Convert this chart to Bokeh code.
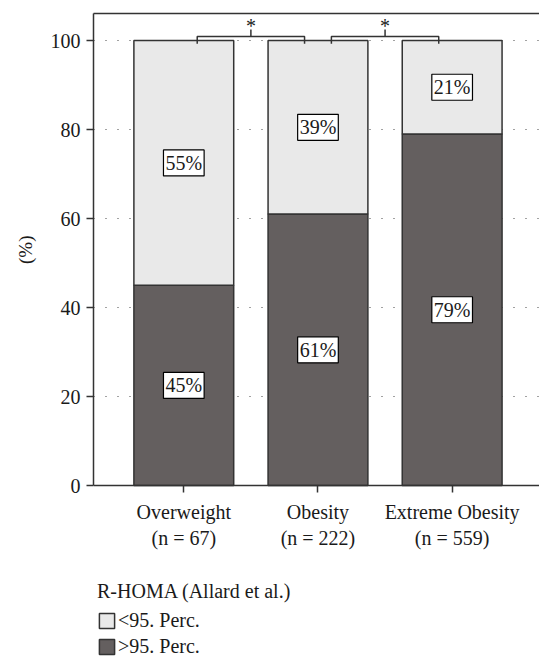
from bokeh.plotting import figure
from bokeh.models import FixedTicker, LinearAxis, Legend, LegendItem, Range1d, Title
from bokeh.embed import file_html
from bokeh.resources import INLINE
from bokeh.core.properties import value

# ---- data ----
categories = ["Overweight\n(n = 67)", "Obesity\n(n = 222)", "Extreme Obesity\n(n = 559)"]
above_95 = [45, 61, 79]
below_95 = [55, 39, 21]
above_labels = ["45%", "61%", "79%"]
below_labels = ["55%", "39%", "21%"]
y_ticks = [0, 20, 40, 60, 80, 100]
sig_pairs = [(0, 1), (1, 2)]
sig_marks = ["*", "*"]
legend_title = "R-HOMA (Allard et al.)"
series_names = ["<95. Perc.", ">95. Perc."]
y_axis_label = "(%)"

FONT = "Liberation Serif"
FS = "20px"
TXT = "#1a1a1a"
DARK = "#645f5f"
LIGHT = "#e9e9e9"
EDGE = "#333333"

x = list(range(len(categories)))
totals = [a + b for a, b in zip(above_95, below_95)]
mid_above = [a / 2 for a in above_95]
mid_below = [a + b / 2 for a, b in zip(above_95, below_95)]
y_top = 106.07

p = figure(width=539, height=661,
           x_range=Range1d(-0.673, 2.651), y_range=Range1d(-39.55, y_top),
           output_backend="svg", toolbar_location=None,
           min_border_left=92, min_border_right=0, min_border_top=13,
           min_border_bottom=0)
p.outline_line_color = None
p.background_fill_color = "white"
p.border_fill_color = "white"

# grid
p.xgrid.grid_line_color = None
p.ygrid.ticker = FixedTicker(ticks=y_ticks)
p.ygrid.grid_line_color = "#444444"
p.ygrid.grid_line_dash = "1 11"
p.ygrid.grid_line_width = 1.2

# bars
dark_r = p.vbar(x=x, bottom=0, top=above_95, width=0.744,
                fill_color=DARK, line_color=EDGE, line_width=1.5)
light_r = p.vbar(x=x, bottom=above_95, top=totals, width=0.744,
                 fill_color=LIGHT, line_color=EDGE, line_width=1.5)

# boxed labels
for ys, labs in ((mid_above, above_labels), (mid_below, below_labels)):
    p.text(x=x, y=ys, text=labs, text_font=value(FONT), text_font_size=FS,
           text_color=TXT, text_align="center", text_baseline="middle",
           background_fill_color="white", border_line_color="black",
           border_line_width=1.2, padding=2)

# significance brackets
bx, by, sx, sy = [], [], [], []
for (a, b) in sig_pairs:
    m = (a + b) / 2
    bx.append([a + 0.1, a + 0.1, b - 0.1, b - 0.1])
    by.append([99.3, 100.9, 100.9, 99.3])
    bx.append([m, m])
    by.append([100.9, 102.5])
    sx.append(m)
    sy.append(103.2)
p.multi_line(xs=bx, ys=by, line_color=EDGE, line_width=1.5)
p.text(x=sx, y=sy, text=sig_marks, text_font=value(FONT), text_font_size=FS,
       text_color=TXT, text_align="center", text_baseline="middle")

# axes
xa = p.xaxis[0]
xa.fixed_location = 0
xa.ticker = FixedTicker(ticks=x)
xa.major_label_overrides = {i: c for i, c in zip(x, categories)}
xa.minor_tick_line_color = None
xa.major_tick_in = 0
xa.major_tick_out = 7
xa.major_label_standoff = 8
xa.major_label_text_font = FONT
xa.major_label_text_font_size = FS
xa.major_label_text_color = TXT
xa.major_label_text_line_height = 1.2
xa.axis_line_color = EDGE
xa.axis_line_width = 1.5
xa.major_tick_line_color = EDGE
xa.major_tick_line_width = 1.5

ya = p.yaxis[0]
ya.bounds = (0, y_top)
ya.ticker = FixedTicker(ticks=y_ticks)
ya.minor_tick_line_color = None
ya.major_tick_in = 0
ya.major_tick_out = 7
ya.major_label_standoff = 6
ya.major_label_text_font = FONT
ya.major_label_text_font_size = FS
ya.major_label_text_color = TXT
ya.axis_line_color = EDGE
ya.axis_line_width = 1.5
ya.major_tick_line_color = EDGE
ya.major_tick_line_width = 1.5

# y-axis label as a side title so it can be centred on the 0-100 part
ylab = Title(text=y_axis_label, align="right", offset=222,
             text_font=FONT, text_font_size="19px", text_font_style="normal",
             text_color=TXT)
if "standoff" in Title.properties():
    ylab.standoff = 24
p.add_layout(ylab, "left")

top_axis = LinearAxis(ticker=FixedTicker(ticks=[]), major_tick_line_color=None,
                      minor_tick_line_color=None, major_label_text_font_size="0px",
                      major_label_standoff=0, axis_line_color=EDGE, axis_line_width=1.5)
p.add_layout(top_axis, "above")

# legend
legend = Legend(items=[LegendItem(label=series_names[0], renderers=[light_r]),
                       LegendItem(label=series_names[1], renderers=[dark_r])],
                title=legend_title, location=(4, 3))
legend.margin = 0
legend.padding = 0
legend.border_line_color = None
legend.background_fill_alpha = 0
legend.title_text_font = FONT
legend.title_text_font_size = FS
legend.title_text_font_style = "normal"
legend.title_text_color = TXT
legend.title_standoff = 6
legend.label_text_font = FONT
legend.label_text_font_size = FS
legend.label_text_color = TXT
legend.label_standoff = 2
legend.glyph_width = 19
legend.glyph_height = 19
legend.label_height = 20
legend.spacing = 3
p.add_layout(legend)

open("out.html", "w").write(file_html(p, INLINE))
